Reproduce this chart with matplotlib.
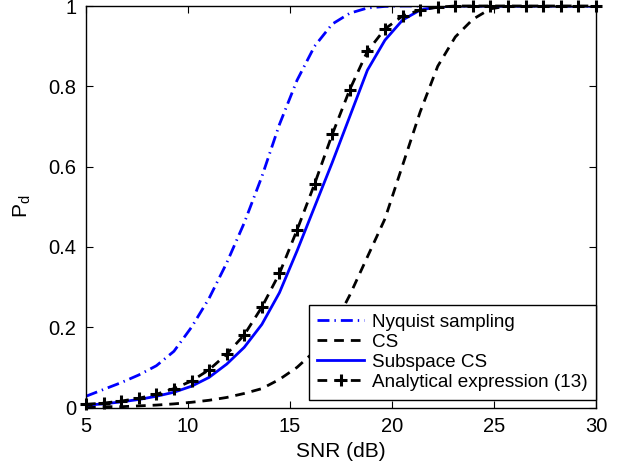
import numpy as np
import matplotlib
matplotlib.use("Agg")
import matplotlib.pyplot as plt

plt.rcParams["font.family"] = ["Liberation Sans", "DejaVu Sans"]
plt.rcParams["lines.scale_dashes"] = False

# SNR grid (dB), 30 points from 5 to 30
snr = np.linspace(5, 30, 30)

# detection probability
pd_nyquist = [0.028, 0.045, 0.062, 0.081, 0.104, 0.14, 0.2, 0.272, 0.36, 0.46,
              0.575, 0.705, 0.815, 0.9, 0.955, 0.982, 0.995, 0.999, 1, 1,
              1, 1, 1, 1, 1, 1, 1, 1, 1, 1]
pd_cs = [0.001, 0.002, 0.002, 0.004, 0.006, 0.009, 0.013, 0.018, 0.025, 0.035,
         0.047, 0.07, 0.1, 0.14, 0.195, 0.28, 0.375, 0.47, 0.603, 0.736,
         0.85, 0.923, 0.967, 0.993, 1, 1, 1, 1, 1, 1]
pd_subspace = [0.006, 0.009, 0.014, 0.02, 0.028, 0.038, 0.053, 0.075, 0.108, 0.15,
               0.207, 0.286, 0.39, 0.5, 0.61, 0.725, 0.84, 0.915, 0.965, 0.99,
               0.998, 1, 1, 1, 1, 1, 1, 1, 1, 1]
pd_analytical = [0.008, 0.011, 0.016, 0.023, 0.033, 0.047, 0.066, 0.094, 0.133, 0.181,
                 0.25, 0.334, 0.442, 0.557, 0.68, 0.792, 0.887, 0.943, 0.975, 0.99,
                 0.997, 1, 1, 1, 1, 1, 1, 1, 1, 1]

labels = ["Nyquist sampling", "CS", "Subspace CS", "Analytical expression (13)"]

fig = plt.figure(figsize=(6.23, 4.65), dpi=100)
ax = fig.add_axes([86 / 623, 1 - 407.5 / 465, 510 / 623, 401.5 / 465])

ax.plot(snr, pd_nyquist, color="blue", lw=2, linestyle=(0, (8.6, 3.6, 1, 3.6)), label=labels[0])
ax.plot(snr, pd_cs, color="black", lw=2, linestyle=(0, (7, 5)), label=labels[1])
ax.plot(snr, pd_subspace, color="blue", lw=2, linestyle="-", label=labels[2])
ax.plot(snr, pd_analytical, color="black", lw=2, linestyle=(0, (7, 5)),
        marker="+", markersize=8, markeredgewidth=2.2, label=labels[3], clip_on=False)

ax.set_xlim(5, 30)
ax.set_ylim(0, 1)
ax.set_xticks([5, 10, 15, 20, 25, 30])
ax.set_yticks([0, 0.2, 0.4, 0.6, 0.8, 1])
ax.set_yticklabels(["0", "0.2", "0.4", "0.6", "0.8", "1"])
ax.tick_params(direction="in", top=True, right=True, length=5, width=0.8,
               labelsize=14.5, pad=7)
for s in ax.spines.values():
    s.set_linewidth(1.0)

ax.set_xlabel("SNR (dB)", fontsize=15, labelpad=4)
ax.set_ylabel("P$_\\mathregular{d}$", fontsize=15, labelpad=11)

leg = ax.legend(loc="lower right", bbox_to_anchor=(1.0, 8 / 401.5), borderaxespad=0,
                fontsize=13.6, handlelength=2.5, handletextpad=0.4, labelspacing=0.15,
                borderpad=0.45, fancybox=False, framealpha=1, edgecolor="black")
leg.get_frame().set_linewidth(1.0)

fig.savefig("out.png", dpi=100)
